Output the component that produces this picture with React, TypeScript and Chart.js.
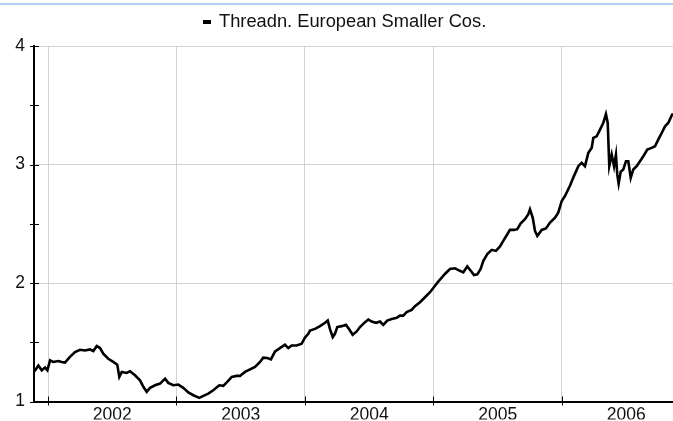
import React, { useEffect, useRef } from 'react';
import { Chart, registerables } from 'chart.js';

Chart.register(...registerables);

const SERIES_NAME = 'Threadn. European Smaller Cos.';
const YEAR_BOUNDARIES = [2002, 2003, 2004, 2005, 2006];
const YEAR_LABEL_POS = [2002.5, 2003.5, 2004.5, 2005.5, 2006.5];
const Y_TICKS = [1, 1.5, 2, 2.5, 3, 3.5, 4];
const X_MIN = 2001.891;
const X_MAX = 2006.864;

const DATES = [
  2001.895, 2001.925, 2001.951, 2001.977, 2001.995,
  2002.016, 2002.041, 2002.080, 2002.107, 2002.132, 2002.171, 2002.210, 2002.249, 2002.288, 2002.327,
  2002.353, 2002.379, 2002.405, 2002.430, 2002.469, 2002.508, 2002.539, 2002.555, 2002.574, 2002.612,
  2002.638, 2002.677, 2002.716, 2002.742, 2002.768, 2002.794, 2002.833, 2002.872, 2002.911, 2002.936,
  2002.975,
  2003.014, 2003.053, 2003.092, 2003.131, 2003.177, 2003.209, 2003.247, 2003.286, 2003.333, 2003.364,
  2003.395, 2003.430, 2003.468, 2003.494, 2003.533, 2003.572, 2003.611, 2003.650, 2003.675, 2003.707,
  2003.735, 2003.767, 2003.805, 2003.844, 2003.870, 2003.896, 2003.935, 2003.974,
  2004.000, 2004.026, 2004.039, 2004.078, 2004.117, 2004.156, 2004.177, 2004.195, 2004.216, 2004.233,
  2004.251, 2004.286, 2004.319, 2004.345, 2004.371, 2004.402, 2004.428, 2004.467, 2004.493, 2004.519,
  2004.553, 2004.584, 2004.609, 2004.640, 2004.675, 2004.714, 2004.739, 2004.765, 2004.791, 2004.830,
  2004.856, 2004.895, 2004.934, 2004.973,
  2005.012, 2005.037, 2005.089, 2005.128, 2005.167, 2005.206, 2005.232, 2005.263, 2005.290, 2005.315,
  2005.341, 2005.367, 2005.388, 2005.419, 2005.453, 2005.486, 2005.518, 2005.543, 2005.570, 2005.595,
  2005.626, 2005.652, 2005.679, 2005.712, 2005.738, 2005.751, 2005.772, 2005.790, 2005.808, 2005.842,
  2005.875, 2005.907, 2005.946, 2005.971, 2005.998,
  2006.023, 2006.062, 2006.093, 2006.127, 2006.153, 2006.179, 2006.205, 2006.231, 2006.244, 2006.270,
  2006.296, 2006.321, 2006.342, 2006.356, 2006.368, 2006.387, 2006.405, 2006.420, 2006.430, 2006.441,
  2006.457, 2006.477, 2006.498, 2006.516, 2006.535, 2006.555, 2006.581, 2006.607, 2006.633, 2006.664,
  2006.698, 2006.724, 2006.749, 2006.776, 2006.802, 2006.827, 2006.854, 2006.864,
];

const VALUES = [
  1.255, 1.303, 1.263, 1.286, 1.263,
  1.347, 1.334, 1.342, 1.334, 1.328, 1.376, 1.418, 1.437, 1.431, 1.439,
  1.426, 1.468, 1.451, 1.403, 1.361, 1.334, 1.311, 1.208, 1.250, 1.241,
  1.255, 1.221, 1.179, 1.124, 1.082, 1.115, 1.137, 1.151, 1.193, 1.157,
  1.137,
  1.143, 1.115, 1.076, 1.053, 1.031, 1.048, 1.067, 1.095, 1.137, 1.132,
  1.166, 1.208, 1.216, 1.216, 1.250, 1.271, 1.292, 1.334, 1.370, 1.367,
  1.355, 1.423, 1.451, 1.479, 1.451, 1.473, 1.473, 1.487,
  1.540, 1.571, 1.599, 1.613, 1.636, 1.664, 1.683, 1.608, 1.544, 1.571,
  1.628, 1.636, 1.647, 1.608, 1.563, 1.591, 1.628, 1.670, 1.692, 1.675,
  1.664, 1.675, 1.647, 1.683, 1.697, 1.706, 1.725, 1.725, 1.754, 1.773,
  1.804, 1.838, 1.880, 1.922,
  1.977, 2.011, 2.076, 2.118, 2.124, 2.103, 2.090, 2.140, 2.103, 2.067,
  2.073, 2.118, 2.187, 2.244, 2.280, 2.271, 2.308, 2.355, 2.403, 2.448,
  2.448, 2.454, 2.504, 2.538, 2.580, 2.622, 2.552, 2.439, 2.397, 2.448,
  2.460, 2.510, 2.552, 2.594, 2.692,
  2.734, 2.820, 2.902, 2.986, 3.014, 2.986, 3.098, 3.140, 3.224, 3.238,
  3.294, 3.350, 3.426, 3.350, 2.986, 3.084, 2.986, 3.084, 2.916, 2.838,
  2.939, 2.958, 3.028, 3.028, 2.888, 2.958, 2.986, 3.028, 3.070, 3.126,
  3.140, 3.154, 3.210, 3.266, 3.322, 3.350, 3.414, 3.430,
];

const FONT_FAMILY = '"Liberation Sans", Arial, sans-serif';
const FONT_SIZE = 17.5;
const LEGEND_FONT_SIZE = 18.3;
const TEXT_COLOR = '#111';
const GRID_COLOR = '#d2d2d2';
const LEGEND_CENTER = 345;
const LEGEND_Y = 22;

const decorPlugin = {
  id: 'decor',
  afterDraw(chart: any) {
    const ctx = chart.ctx;
    const xs = chart.scales.x;
    const ys = chart.scales.y;
    const { left, bottom } = chart.chartArea;
    ctx.save();
    ctx.strokeStyle = '#000';
    ctx.lineWidth = 1;
    ctx.beginPath();
    Y_TICKS.forEach((v) => {
      const py = Math.round(ys.getPixelForValue(v)) + 0.5;
      ctx.moveTo(left - 4, py);
      ctx.lineTo(left + 5, py);
    });
    YEAR_BOUNDARIES.forEach((yr) => {
      const px = Math.round(xs.getPixelForValue(yr)) + 0.5;
      ctx.moveTo(px, bottom - 5);
      ctx.lineTo(px, bottom + 4);
    });
    ctx.stroke();

    // legend
    ctx.font = `${LEGEND_FONT_SIZE}px ${FONT_FAMILY}`;
    const w = ctx.measureText(SERIES_NAME).width;
    const total = 8 + 8 + w;
    const x0 = Math.round(LEGEND_CENTER - total / 2);
    ctx.fillStyle = '#000';
    ctx.fillRect(x0, LEGEND_Y - 2, 8, 4);
    ctx.fillStyle = TEXT_COLOR;
    ctx.textBaseline = 'middle';
    ctx.textAlign = 'left';
    ctx.fillText(SERIES_NAME, x0 + 16, LEGEND_Y);
    ctx.restore();
  },
};

export default function App() {
  const canvasRef = useRef<HTMLCanvasElement | null>(null);

  useEffect(() => {
    if (!canvasRef.current) return;
    const points = DATES.map((d, i) => ({ x: d, y: VALUES[i] }));
    const chart = new Chart(canvasRef.current, {
      type: 'line',
      data: {
        datasets: [
          {
            label: SERIES_NAME,
            data: points,
            borderColor: '#000',
            backgroundColor: '#000',
            borderWidth: 2.6,
            pointRadius: 0,
            tension: 0,
            fill: false,
          },
        ],
      },
      options: {
        responsive: false,
        animation: false,
        parsing: false as any,
        layout: { padding: { top: 46, left: 0, right: 0, bottom: 0 } },
        plugins: {
          legend: { display: false },
          tooltip: { enabled: false },
        },
        scales: {
          x: {
            type: 'linear',
            min: X_MIN,
            max: X_MAX,
            afterBuildTicks: (scale: any) => {
              scale.ticks = YEAR_LABEL_POS.map((v) => ({ value: v }));
            },
            afterFit: (scale: any) => {
              scale.height = 18;
            },
            ticks: {
              autoSkip: false,
              maxRotation: 0,
              padding: 3.5,
              color: TEXT_COLOR,
              font: { family: FONT_FAMILY, size: FONT_SIZE },
              callback: (v: any) => String(Math.floor(Number(v))),
            },
            grid: {
              offset: true,
              color: GRID_COLOR,
              lineWidth: 1,
              drawTicks: false,
            },
            border: { display: true, color: '#000', width: 2 },
          },
          y: {
            type: 'linear',
            min: 1,
            max: 4,
            afterBuildTicks: (scale: any) => {
              scale.ticks = Y_TICKS.map((v) => ({ value: v }));
            },
            afterFit: (scale: any) => {
              scale.width = 34;
            },
            ticks: {
              autoSkip: false,
              padding: 9,
              color: TEXT_COLOR,
              font: { family: FONT_FAMILY, size: FONT_SIZE },
              callback: (v: any) => (Number.isInteger(Number(v)) ? String(v) : ''),
            },
            grid: {
              color: (c: any) =>
                c.tick && Number.isInteger(c.tick.value) && c.tick.value !== 1
                  ? GRID_COLOR
                  : 'rgba(0,0,0,0)',
              lineWidth: 1,
              drawTicks: false,
            },
            border: { display: true, color: '#000', width: 2 },
          },
        },
      },
      plugins: [decorPlugin],
    });
    return () => chart.destroy();
  }, []);

  return (
    <div style={{ position: 'fixed', left: 0, top: 0, width: 673, height: 421, background: '#fff' }}>
      <div style={{ position: 'absolute', left: 0, top: 3, width: 673, height: 2, background: '#b0d0f2' }} />
      <canvas ref={canvasRef} width={673} height={421} style={{ display: 'block' }} />
    </div>
  );
}
